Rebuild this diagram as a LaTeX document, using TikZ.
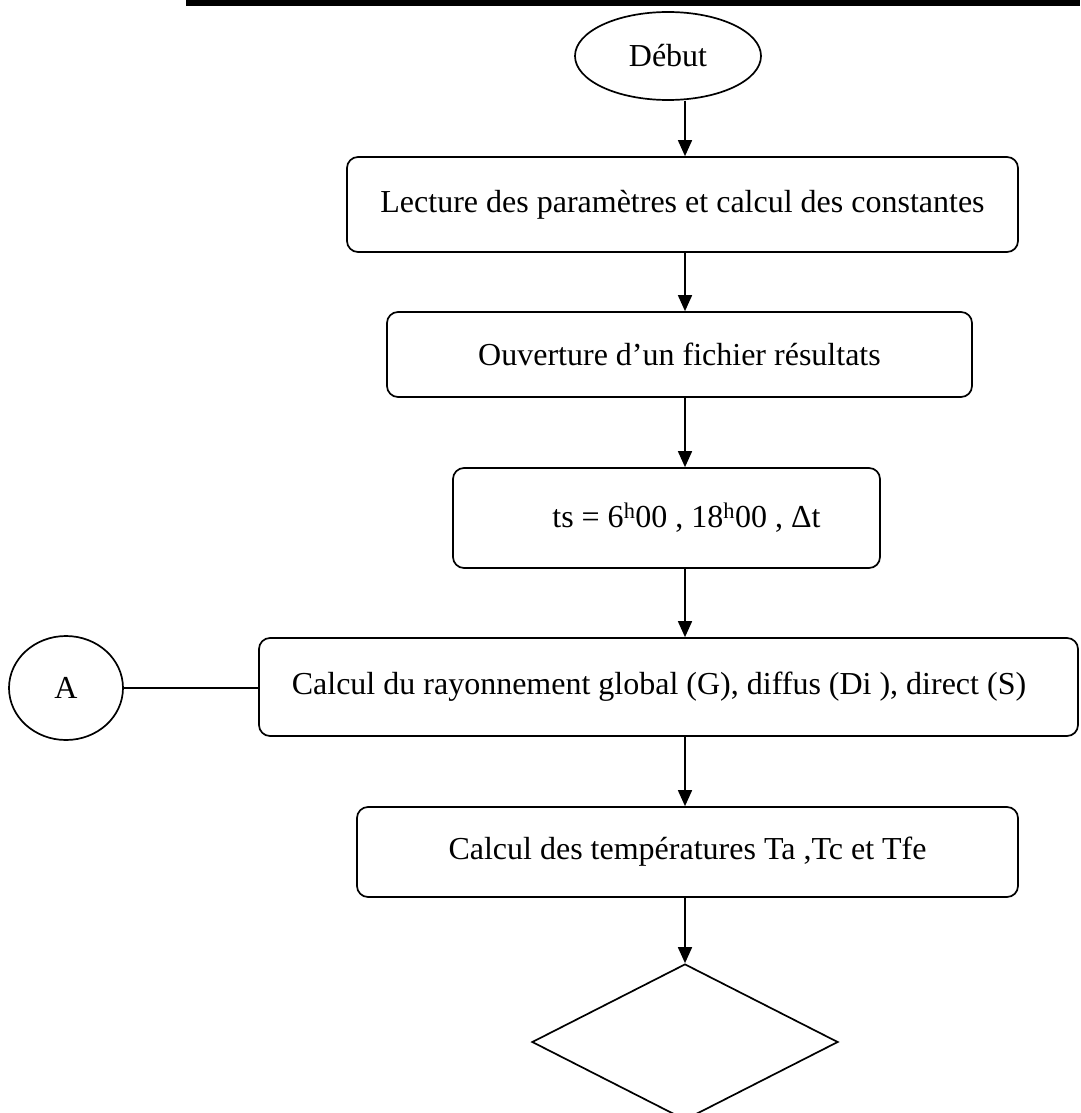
\documentclass[tikz,border=0pt]{standalone}
\usepackage{fontspec}
\setmainfont{Liberation Serif}
\usetikzlibrary{shapes.geometric,arrows.meta}
\begin{document}
\begin{tikzpicture}[x=1pt,y=-1pt,
  every node/.style={font=\fontsize{32pt}{38pt}\selectfont},
  conn/.style={line width=1.7pt},
  arr/.style={line width=1.7pt,-{Triangle[width=14pt,length=16pt]}},
  procbox/.style={draw,line width=1.7pt,rounded corners=11pt,inner sep=0pt},
  termshape/.style={draw,ellipse,line width=1.7pt,inner sep=0pt},
  decshape/.style={draw,diamond,line width=1.7pt,inner sep=0pt}]
\useasboundingbox (0,0) rectangle (1080,1113);
% top rule
\draw[line width=5.5pt] (186,3) -- (1080,3);
\coordinate (spine) at (685,0);
\node[termshape,minimum width=186pt,minimum height=88pt] (debut) at (668,56) {Début};
\node[procbox,minimum width=671pt,minimum height=95pt] (b1) at (682.5,204.5) {Lecture des paramètres et calcul des constantes};
\node[procbox,minimum width=585pt,minimum height=85pt] (b2) at (679.5,354.5) {Ouverture d’un fichier résultats};
\node[procbox,minimum width=427pt,minimum height=100pt] (b3) at (666.5,518) {\hspace*{40pt}ts = 6\textsuperscript{h}00 , 18\textsuperscript{h}00 , Δt};
\node[procbox,minimum width=819pt,minimum height=98pt] (b4) at (668.5,687) {Calcul du rayonnement global (G), diffus (Di ), direct (S)\hspace*{19pt}};
\node[procbox,minimum width=661pt,minimum height=90pt] (b5) at (687.5,852) {Calcul des températures Ta ,Tc et Tfe};
\node[decshape,minimum width=306pt,minimum height=156pt] (dec) at (685,1042) {};
\node[termshape,minimum width=114pt,minimum height=104pt] (A) at (66,688) {A};
\draw[arr] (debut.south -| spine) -- (b1.north -| spine);
\draw[arr] (b1.south -| spine) -- (b2.north -| spine);
\draw[arr] (b2.south -| spine) -- (b3.north -| spine);
\draw[arr] (b3.south -| spine) -- (b4.north -| spine);
\draw[arr] (b4.south -| spine) -- (b5.north -| spine);
\draw[arr] (b5.south -| spine) -- (dec.north);
\draw[conn] (A.east) -- (A.east -| b4.west);
\end{tikzpicture}
\end{document}
